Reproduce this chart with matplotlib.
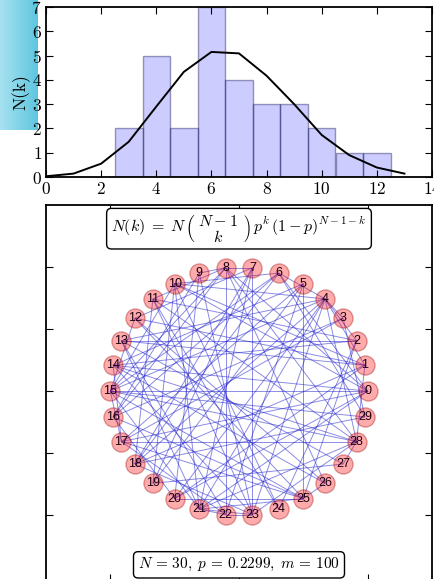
import matplotlib
matplotlib.use('Agg')
import matplotlib.pyplot as plt
import numpy as np
from matplotlib.collections import LineCollection

plt.rcParams['font.family'] = 'serif'
plt.rcParams['font.serif'] = ['cmr10', 'DejaVu Serif']
plt.rcParams['mathtext.fontset'] = 'cm'
plt.rcParams['axes.formatter.use_mathtext'] = True

# degree histogram
degree_k = [3, 4, 5, 6, 7, 8, 9, 10, 11, 12]
node_counts = [2, 5, 2, 7, 4, 3, 3, 2, 1, 1]

# expected N(k) curve
curve_k = [0, 1, 2, 3, 4, 5, 6, 7, 8, 9, 10, 11, 12, 13]
curve_vals = [0.03, 0.14, 0.55, 1.45, 2.9, 4.33, 5.15, 5.09, 4.17, 3.0, 1.73, 0.9, 0.39, 0.14]

# network: 30 nodes, 100 edges
n_nodes = 30
edges = [
    (4, 1), (4, 2), (4, 3), (4, 6), (4, 10), (4, 13), (4, 15), (4, 18), (4, 20), (4, 21), (4, 23), (4, 28),
    (15, 0), (15, 6), (15, 8), (15, 10), (15, 12), (15, 17), (15, 21), (15, 25), (15, 28), (15, 29),
    (28, 17), (28, 1), (28, 8), (28, 11), (28, 14), (28, 21), (28, 27), (28, 23),
    (21, 22), (21, 23), (21, 25), (21, 10), (21, 7), (21, 13), (21, 0),
    (23, 7), (23, 22), (23, 14), (23, 11), (23, 9), (23, 18),
    (25, 5), (25, 20), (25, 16), (25, 17), (25, 12), (25, 2), (25, 26),
    (8, 22), (8, 9), (8, 7), (8, 11), (8, 0), (8, 16), (8, 26),
    (10, 0), (10, 1), (10, 6), (10, 19), (10, 24),
    (17, 0), (17, 5), (17, 3), (17, 14), (17, 22),
    (0, 14), (0, 6), (0, 20),
    (6, 18), (6, 16), (6, 29),
    (1, 13), (1, 18), (1, 20), (1, 12),
    (14, 2), (14, 5), (14, 26),
    (18, 7), (18, 11), (18, 29),
    (11, 2), (11, 24),
    (7, 19), (7, 12),
    (13, 2), (13, 22), (13, 27),
    (16, 3), (16, 20), (16, 9), (20, 9),
    (22, 5), (5, 19), (19, 27), (2, 24), (12, 26), (3, 29),
]

fig = plt.figure(figsize=(4.34, 5.79), dpi=100)

# slide background strip on the left
bg = fig.add_axes([0, 1 - 130 / 579, 38 / 434, 130 / 579], zorder=-5)
bg.imshow(np.linspace(0, 1, 50).reshape(1, -1), cmap=matplotlib.colors.LinearSegmentedColormap.from_list(
    'cy', ['#a6e2f0', '#5ec6df']), aspect='auto', extent=[0, 1, 0, 1])
bg.axis('off')

# top: degree distribution
ax1 = fig.add_axes([46 / 434, 1 - 177 / 579, 386 / 434, 170 / 579])
ax1.bar(degree_k, node_counts, width=1.0, color=(0, 0, 1, 0.2), edgecolor=(0.15, 0.15, 0.4, 0.45), linewidth=1)
ax1.plot(curve_k, curve_vals, color='black', linewidth=1.4)
ax1.set_xlim(0, 14)
ax1.set_ylim(0, 7)
ax1.set_xticks(range(0, 15, 2))
ax1.set_yticks(range(0, 8))
ax1.set_ylabel('N(k)', fontsize=12.5, labelpad=1)
ax1.tick_params(direction='in', top=True, right=True, length=5, width=0.8, labelsize=12.5, pad=3)
for s in ax1.spines.values():
    s.set_linewidth(1.3)

# bottom: network drawing
ax2 = fig.add_axes([46 / 434, 1 - 581 / 579, 386 / 434, 376 / 579])
ang = 2 * np.pi * np.arange(n_nodes) / n_nodes
px = 1.0 * np.cos(ang)
py = 1.0 * np.sin(ang)
segs = [[(px[a], py[a]), (px[b], py[b])] for a, b in edges]
ax2.add_collection(LineCollection(segs, colors=(0.1, 0.1, 0.8, 0.5), linewidths=0.7, zorder=1))
ax2.scatter(px, py, s=190, facecolor=(1, 0, 0, 0.33), edgecolor=(0.6, 0, 0, 0.35), linewidth=1, zorder=2)
for i in range(n_nodes):
    ax2.text(px[i], py[i], str(i), fontsize=9, family='Liberation Sans', color='#1a0010',
             ha='center', va='center', zorder=3)
ax2.set_xlim(-1.5, 1.5)
ax2.set_ylim(-1.53, 1.5)
ax2.set_xticks([-1, 0, 1])
ax2.set_yticks([-1, -0.5, 0, 0.5, 1])
ax2.set_xticklabels([])
ax2.set_yticklabels([])
ax2.tick_params(direction='in', top=True, right=True, length=5, width=0.8)
for s in ax2.spines.values():
    s.set_linewidth(1.3)

box = dict(boxstyle='round,pad=0.3', facecolor='white', edgecolor='black', linewidth=1)
ax2.text(0.5, 0.937, r'$N(k)\;=\;N\,\genfrac{(}{)}{0}{0}{\;N-1\;}{k}\,p^k\,(1-p)^{N-1-k}$',
         transform=ax2.transAxes, ha='center', va='center', fontsize=11.5, bbox=box, zorder=5)
ax2.text(0.5, 0.043, r'$N\,=\,30,\;p\,=\,0.2299,\;m\,=\,100$', transform=ax2.transAxes,
         ha='center', va='center', fontsize=11, bbox=box, zorder=5)

fig.savefig('out.png', dpi=100)
